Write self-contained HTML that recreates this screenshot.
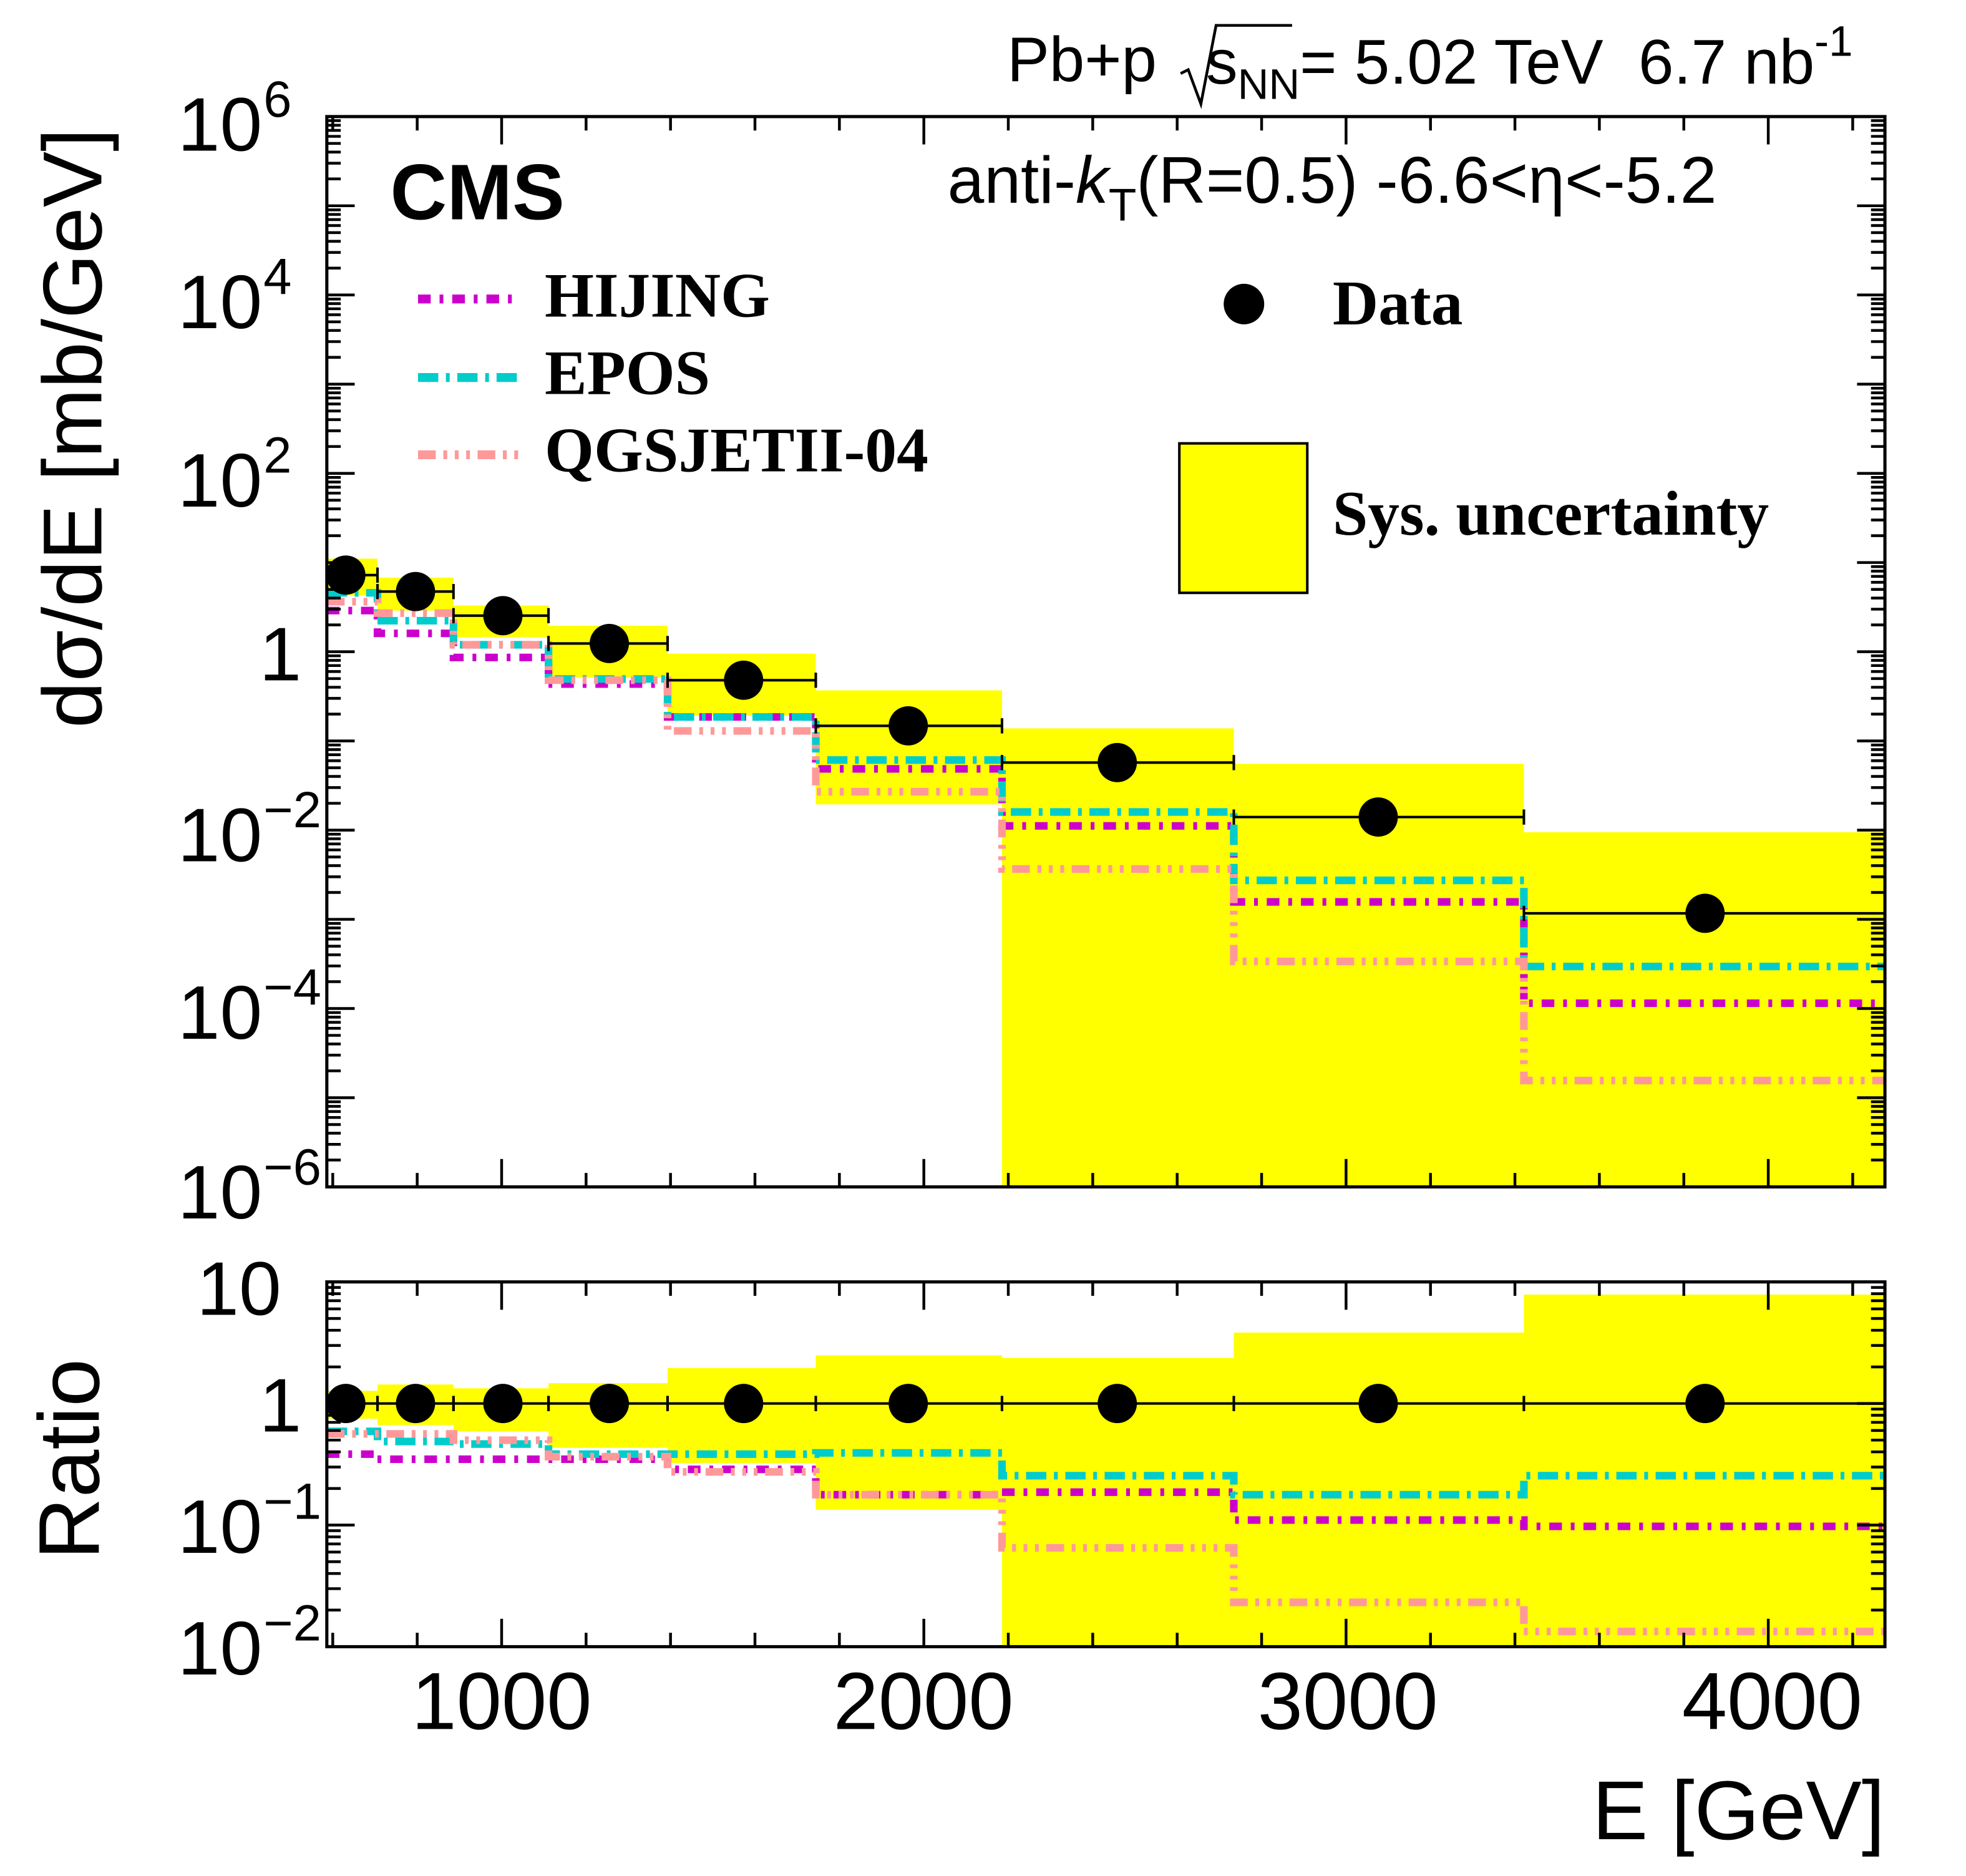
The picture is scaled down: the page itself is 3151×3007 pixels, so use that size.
<!DOCTYPE html>
<html><head><meta charset="utf-8"><style>
html,body{margin:0;padding:0;background:#fff}
svg{display:block}
text{font-family:"Liberation Sans",sans-serif}
.t{font-family:"Liberation Serif",serif;font-weight:bold}
</style></head><body>
<svg id="s" width="3151" height="3007" viewBox="0 0 1552 1481" xmlns="http://www.w3.org/2000/svg">
<g id="bands"></g>
<g id="lines"></g>
<g id="axes" stroke="#000" stroke-width="2.2" fill="none"></g>
<g id="data"></g>
<rect x="258" y="92" width="1230" height="845" fill="none" stroke="#000" stroke-width="2.5"/>
<rect x="258" y="1012" width="1230" height="288" fill="none" stroke="#000" stroke-width="2.5"/>
<g font-size="60" text-anchor="end" fill="#000">
<text x="207" y="119">10</text><text x="207" y="259">10</text><text x="207" y="400">10</text>
<text x="238" y="537">1</text>
<text x="207" y="680">10</text><text x="207" y="820">10</text><text x="207" y="962">10</text>
<text x="222" y="1038">10</text>
<text x="238" y="1130">1</text>
<text x="207" y="1226">10</text><text x="207" y="1322">10</text>
</g>
<g font-size="40" fill="#000">
<text x="208" y="92">6</text><text x="208" y="232">4</text><text x="208" y="373">2</text>
<text x="208" y="653">−2</text><text x="208" y="793">−4</text><text x="208" y="935">−6</text>
<text x="208" y="1199">−1</text><text x="208" y="1295">−2</text>
</g>
<g font-size="64" text-anchor="middle">
<text x="396" y="1365">1000</text><text x="729" y="1365">2000</text><text x="1064" y="1365">3000</text><text x="1399" y="1365">4000</text>
</g>
<text x="1488" y="1452" font-size="66" text-anchor="end">E [GeV]</text>
<text transform="translate(80,338) rotate(-90)" font-size="66" text-anchor="middle">dσ/dE [mb/GeV]</text>
<text transform="translate(78,1152) rotate(-90)" font-size="68" text-anchor="middle">Ratio</text>
<text x="308" y="173" font-size="62" font-weight="bold">CMS</text>
<text x="795" y="64" font-size="50">Pb+p</text>
<path d="M932 58 L938 55 L948 82 L960 20 L1020 20" stroke="#000" stroke-width="2.2" fill="none"/>
<text x="952" y="66" font-size="50">s<tspan font-size="34" dy="12">NN</tspan><tspan dy="-12">= 5.02 TeV&#160;&#160;6.7 nb</tspan><tspan font-size="34" dy="-22">-1</tspan></text>
<text x="748" y="160" font-size="52">anti-<tspan font-style="italic">k</tspan><tspan font-size="36" dy="14">T</tspan><tspan dy="-14">(R=0.5) -6.6&lt;η&lt;-5.2</tspan></text>
<g font-size="50">
<text x="430" y="250" class="t">HIJING</text>
<text x="430" y="311" class="t">EPOS</text>
<text x="430" y="372" class="t">QGSJETII-04</text>
<text x="1052" y="256" class="t">Data</text>
<text x="1052" y="422" class="t">Sys. uncertainty</text>
</g>
<line x1="330" y1="236" x2="406" y2="236" stroke="#cc00cc" stroke-width="7" stroke-dasharray="10 7 3 7"/>
<line x1="330" y1="298" x2="412" y2="298" stroke="#00cccc" stroke-width="7" stroke-dasharray="16 6 3 6"/>
<line x1="330" y1="359" x2="412" y2="359" stroke="#ff9999" stroke-width="7" stroke-dasharray="14 6 3 6 3 6 3 6"/>
<circle cx="982" cy="240" r="16" fill="#000"/>
<rect x="931" y="350" width="101" height="118" fill="#ffff00" stroke="#000" stroke-width="2"/>
</svg>
<script>
const NS="http://www.w3.org/2000/svg";
function el(p,t,a){const e=document.createElementNS(NS,t);for(const k in a)e.setAttribute(k,a[k]);document.getElementById(p).appendChild(e);return e;}
const ed=[258,298,358,433,527,644,791,974,1203,1488];
const px=[273,328,397,481,587,717,882,1088,1346];
const dy=[454,467,486,508,537,573,602,645,721];
const bt=[441,456,478,494,516,545,575,603,657],bb=[470,482,503,535,565,635,937,937,937];
const rt=[1098,1093,1096,1092,1080,1070,1072,1052,1022],rb=[1120,1125,1130,1143,1155,1192,1300,1300,1300];
for(let i=0;i<9;i++){
 el("bands","rect",{x:ed[i],y:bt[i],width:ed[i+1]-ed[i],height:bb[i]-bt[i],fill:"#ffff00"});
 el("bands","rect",{x:ed[i],y:rt[i],width:ed[i+1]-ed[i],height:rb[i]-rt[i],fill:"#ffff00"});
}
const mc=[
 {c:"#cc00cc",d:"10 7 3 7",u:[482,500,519,540,566,607,652,712,792],r:[1148,1152,1152,1152,1160,1180,1178,1200,1205]},
 {c:"#00cccc",d:"16 6 3 6",u:[468,490,509,536,566,600,641,695,763],r:[1130,1138,1140,1148,1148,1147,1165,1180,1165]},
 {c:"#ff9999",d:"14 6 3 6 3 6 3 6",u:[475,484,509,537,577,625,686,759,853],r:[1132,1132,1137,1150,1162,1180,1222,1265,1288]}];
for(const m of mc){for(const k of ["u","r"]){let d="M"+ed[0]+" "+m[k][0];
 for(let i=0;i<9;i++){d+=" L"+ed[i+1]+" "+m[k][i];if(i<8)d+=" L"+ed[i+1]+" "+m[k][i+1];}
 el("lines","path",{d:d,stroke:m.c,"stroke-width":6,fill:"none","stroke-dasharray":m.d});}}
for(let i=0;i<9;i++){
 for(const y of [dy[i],1108]){
  el("data","line",{x1:ed[i],x2:ed[i+1],y1:y,y2:y,stroke:"#000","stroke-width":2});
  el("data","line",{x1:ed[i],x2:ed[i],y1:y-6,y2:y+6,stroke:"#000","stroke-width":2});
  el("data","line",{x1:ed[i+1],x2:ed[i+1],y1:y-6,y2:y+6,stroke:"#000","stroke-width":2});
  el("data","circle",{cx:px[i],cy:y,r:15.5,fill:"#000"});
 }}
const X=e=>396+(e-1000)*0.3333;
for(let e=600;e<=4200;e+=200){const x=X(e);const L=(e%1000==0)?22:11;
 for(const [t,b] of [[92,937],[1012,1300]]){
  el("axes","line",{x1:x,x2:x,y1:b,y2:b-L});el("axes","line",{x1:x,x2:x,y1:t,y2:t+L});}}
function ylog(top,bot,dec){const pd=(bot-top)/dec;
 for(let d=0;d<dec;d++){for(let m=1;m<10;m++){const y=bot-(d+Math.log10(m))*pd;const L=m==1?22:11;
  el("axes","line",{x1:258,x2:258+L,y1:y,y2:y});el("axes","line",{x1:1488,x2:1488-L,y1:y,y2:y});}}}
ylog(92,937,12);ylog(1012,1300,3);
</script>
</body></html>
